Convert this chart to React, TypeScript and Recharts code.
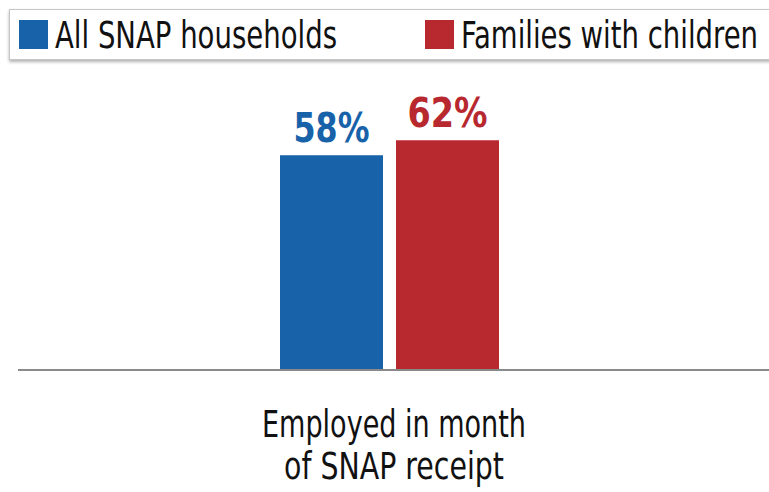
import { Bar, BarChart, LabelList, XAxis, YAxis } from "recharts";

const categories = ["Employed in month of SNAP receipt"];
const allHouseholds = [58];
const familiesWithChildren = [62];
const categoryLines = [["Employed in month", "of SNAP receipt"]];

const BLUE = "#1762a9";
const RED = "#b8282f";
const FONT = '"DejaVu Sans Condensed", "Liberation Sans Narrow", "DejaVu Sans", sans-serif';

const data = categories.map((name, i) => ({
  name,
  all: allHouseholds[i],
  families: familiesWithChildren[i],
}));

// legend entries, with the text widths seen in the picture (the original face is a condensed one)
const legendItems = [
  { label: "All SNAP households", color: BLUE, x: 19, width: 282 },
  { label: "Families with children", color: RED, x: 425, width: 297 },
];
const tickWidths = [264, 220];

function LegendBox() {
  return (
    <div
      style={{
        position: "absolute",
        left: 9,
        top: 9,
        width: 800,
        height: 51,
        border: "1px solid #c6c6c6",
        boxShadow: "0 2px 3px rgba(0,0,0,0.3)",
        background: "#fff",
        boxSizing: "border-box",
      }}
    >
      <svg width={769} height={51} style={{ position: "absolute", left: -10, top: -10, overflow: "visible" }}>
        {legendItems.map((item) => (
          <g key={item.label}>
            <rect x={item.x} y={20} width={29} height={29} fill={item.color} />
            <text
              x={item.x + 36}
              y={48}
              fontFamily={FONT}
              fontSize={37}
              fill="#111"
              textLength={item.width}
              lengthAdjust="spacingAndGlyphs"
            >
              {item.label}
            </text>
          </g>
        ))}
      </svg>
    </div>
  );
}

function CategoryTick({ x, y, index }: any) {
  const lines = categoryLines[index] || [];
  return (
    <g>
      {lines.map((line, i) => (
        <text
          key={i}
          x={x + 5}
          y={y + 67 + i * 42}
          textAnchor="middle"
          fontFamily={FONT}
          fontSize={37}
          fill="#111"
          textLength={tickWidths[i]}
          lengthAdjust="spacingAndGlyphs"
        >
          {line}
        </text>
      ))}
    </g>
  );
}

function makeValueLabel(color: string, width: number) {
  return function ValueLabel(props: any) {
    const { x, y, width: barWidth, value } = props;
    return (
      <text
        x={x + barWidth / 2}
        y={y - 13}
        textAnchor="middle"
        fontFamily={FONT}
        fontWeight="bold"
        fontSize={41}
        fill={color}
        textLength={width}
        lengthAdjust="spacingAndGlyphs"
      >
        {`${value}%`}
      </text>
    );
  };
}

const BlueLabel = makeValueLabel(BLUE, 76);
const RedLabel = makeValueLabel(RED, 80);

export default function App() {
  return (
    <div style={{ width: 769, height: 492, position: "relative", overflow: "hidden", background: "#fff" }}>
      <style>{"body{margin:0}"}</style>
      <BarChart
        width={769}
        height={492}
        data={data}
        margin={{ top: 70, right: 0, bottom: 0, left: 18 }}
        barGap={13}
      >
        <YAxis hide domain={[0, 81]} />
        <XAxis
          dataKey="name"
          height={122}
          tickSize={0}
          tickMargin={0}
          tickLine={false}
          axisLine={{ stroke: "#8a8a8a", strokeWidth: 2 }}
          padding={{ left: 0, right: 9 }}
          tick={<CategoryTick />}
          interval={0}
        />
        <Bar dataKey="all" fill={BLUE} barSize={103} isAnimationActive={false}>
          <LabelList dataKey="all" content={<BlueLabel />} />
        </Bar>
        <Bar dataKey="families" fill={RED} barSize={103} isAnimationActive={false}>
          <LabelList dataKey="families" content={<RedLabel />} />
        </Bar>
      </BarChart>
      <LegendBox />
    </div>
  );
}
